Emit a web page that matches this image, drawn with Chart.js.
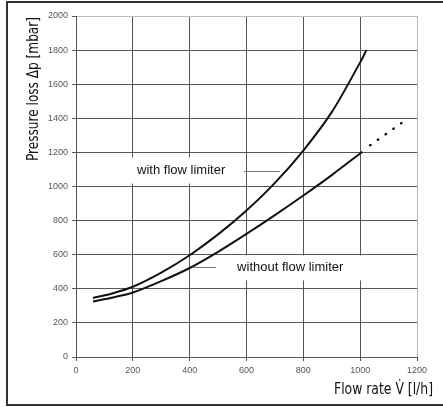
<!DOCTYPE html>
<html><head><meta charset="utf-8">
<script src="https://cdn.jsdelivr.net/npm/chart.js@4/dist/chart.umd.min.js"></script>
<style>html,body{margin:0;padding:0;background:#fff;overflow:hidden}</style>
</head><body>
<canvas id="c" width="443" height="407"></canvas>
<script>
// ---- data ----
const flowWith     = [60, 130, 200, 300, 400, 500, 600, 700, 800, 900, 1000, 1022];
const lossWith     = [346, 374, 412, 495, 597, 719, 859, 1021, 1211, 1436, 1728, 1800];
const flowWithout  = [60, 130, 200, 300, 400, 500, 600, 700, 800, 900, 1008];
const lossWithout  = [326, 349, 378, 445, 522, 617, 722, 832, 947, 1067, 1204];
const flowWithoutExt = [1035, 1145];
const lossWithoutExt = [1242, 1372];
const xTicks = [0, 200, 400, 600, 800, 1000, 1200];
const yTicks = [0, 200, 400, 600, 800, 1000, 1200, 1400, 1600, 1800, 2000];
const xTitle = 'Flow rate V\u0307 [l/h]';
const yTitle = 'Pressure loss \u0394p [mbar]';
const labelWith = 'with flow limiter';
const labelWithout = 'without flow limiter';

const pts = (xs, ys) => xs.map((v, i) => ({x: v, y: ys[i]}));

const frameAndTitles = {
  id: 'frameAndTitles',
  beforeDraw(chart) {
    const ctx = chart.ctx;
    ctx.save();
    ctx.fillStyle = '#fff';
    ctx.fillRect(0, 0, chart.width, chart.height);
    ctx.strokeStyle = '#333';
    ctx.lineWidth = 2;
    ctx.beginPath();
    ctx.moveTo(chart.width + 2, 2);
    ctx.lineTo(7, 2);
    ctx.lineTo(7, 405);
    ctx.lineTo(chart.width + 2, 405);
    ctx.stroke();
    ctx.restore();
  },
  afterDraw(chart) {
    const ctx = chart.ctx;
    const a = chart.chartArea;
    ctx.save();
    ctx.fillStyle = '#111';
    ctx.font = "16px 'Liberation Sans Narrow', 'DejaVu Sans Condensed', 'Liberation Sans', Arial, sans-serif";
    ctx.textAlign = 'right';
    ctx.textBaseline = 'middle';
    ctx.fillText(xTitle, 433, 390, 99);
    ctx.translate(34, a.top + 1);
    ctx.rotate(-Math.PI / 2);
    ctx.textAlign = 'right';
    ctx.fillText(yTitle, 0, 0, 144);
    ctx.restore();
  },
  afterDatasetsDraw(chart) {
    const ctx = chart.ctx;
    const xs = chart.scales.x, ys = chart.scales.y;
    const X = v => xs.getPixelForValue(v), Y = v => ys.getPixelForValue(v);
    ctx.save();
    ctx.font = "13px 'Liberation Sans', Arial, sans-serif";
    ctx.textBaseline = 'middle';
    ctx.textAlign = 'left';
    ctx.fillStyle = '#fff';
    ctx.fillRect(X(190), Y(1170), X(584) - X(190), Y(1017) - Y(1170));
    ctx.fillStyle = '#111';
    ctx.fillText(labelWith, X(215), Y(1094));
    ctx.strokeStyle = '#777';
    ctx.lineWidth = 1;
    ctx.beginPath();
    ctx.moveTo(X(591), Math.round(Y(1088)) + 0.5);
    ctx.lineTo(X(718), Math.round(Y(1088)) + 0.5);
    ctx.stroke();
    ctx.fillStyle = '#fff';
    ctx.fillRect(X(500), Y(596), X(1006) - X(500), Y(449) - Y(596));
    ctx.fillStyle = '#111';
    ctx.fillText(labelWithout, X(567), Y(526));
    ctx.beginPath();
    ctx.moveTo(X(408), Math.round(Y(529)) + 0.5);
    ctx.lineTo(X(493), Math.round(Y(529)) + 0.5);
    ctx.stroke();
    ctx.restore();
  }
};

const gridColor = (lightVal) => (c) => (c.tick && c.tick.value === lightVal) ? '#bbb' : '#555';
const plainTick = v => String(v);

new Chart(document.getElementById('c'), {
  type: 'line',
  data: {
    datasets: [
      { label: labelWith, data: pts(flowWith, lossWith), borderColor: '#111', borderWidth: 2,
        pointRadius: 0, tension: 0.3, fill: false },
      { label: labelWithout, data: pts(flowWithout, lossWithout), borderColor: '#111', borderWidth: 2,
        pointRadius: 0, tension: 0.3, fill: false },
      { label: labelWithout + ' (extrapolated)', data: pts(flowWithoutExt, lossWithoutExt), borderColor: '#111',
        borderWidth: 2.5, borderDash: [0.5, 9], borderCapStyle: 'round', pointRadius: 0, tension: 0, fill: false }
    ]
  },
  options: {
    responsive: false,
    animation: false,
    devicePixelRatio: 1,
    layout: { padding: { top: 16, right: 26, left: 0, bottom: 0 } },
    plugins: { legend: { display: false }, tooltip: { enabled: false } },
    scales: {
      x: {
        type: 'linear', min: 0, max: 1200,
        afterBuildTicks: s => { s.ticks = xTicks.map(v => ({value: v})); },
        afterFit: s => { s.height = 50; },
        grid: { color: gridColor(1200), tickColor: '#555', tickLength: 4, lineWidth: 1 },
        border: { color: '#555', width: 1 },
        ticks: { callback: plainTick, color: '#555', padding: 4, maxRotation: 0, font: { size: 9, family: "'Liberation Sans', Arial, sans-serif" } }
      },
      y: {
        type: 'linear', min: 0, max: 2000,
        afterBuildTicks: s => { s.ticks = yTicks.map(v => ({value: v})); },
        afterFit: s => { s.width = 76; },
        grid: { color: gridColor(2000), tickColor: '#555', tickLength: 4, lineWidth: 1 },
        border: { color: '#555', width: 1 },
        ticks: { callback: plainTick, color: '#555', padding: 4, font: { size: 9, family: "'Liberation Sans', Arial, sans-serif" } }
      }
    }
  },
  plugins: [frameAndTitles]
});
</script>
</body></html>
